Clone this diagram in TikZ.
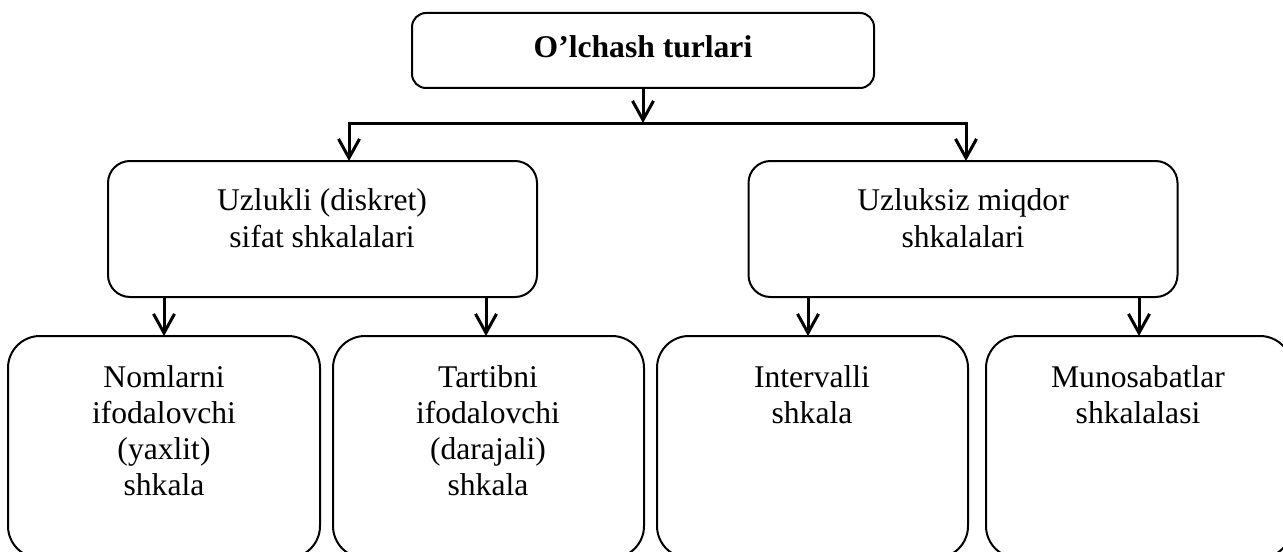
\documentclass[tikz,border=0pt]{standalone}
\usepackage{fontspec}
\setmainfont{Liberation Serif}
\usetikzlibrary{arrows.meta}
\newcommand\myTopStrut{\rule{0pt}{12pt}}
\begin{document}
\begin{tikzpicture}[x=0.5pt,y=-0.5pt,
  every node/.style={inner sep=0pt, outer sep=0pt},
  topbox/.style={draw, line width=1pt, rounded corners=7pt, minimum width=231pt, minimum height=37.5pt},
  midbox/.style={draw, line width=1pt, rounded corners=11pt, minimum width=214.5pt, minimum height=68pt},
  lowbox/.style={draw, line width=1pt, rounded corners=16pt, minimum height=111pt},
  lbl/.style={anchor=north, align=center, font=\fontsize{15.8}{18}\selectfont},
  arr/.style={line width=1.5pt, -{Straight Barb[length=9.5pt, width=10.5pt]}},
  bus/.style={line width=1.5pt, line cap=rect}]
\useasboundingbox (0,0) rectangle (1283,551);
\clip (0,0) rectangle (1283,551);

% boxes
\node[topbox] (top) at (643,50.5) {};
\node[midbox] (midL) at (322.5,229) {};
\node[midbox] (midR) at (963,229) {};
\node[lowbox, minimum width=156pt] (b1) at (164,447) {};
\node[lowbox, minimum width=155.5pt] (b2) at (488.5,447) {};
\node[lowbox, minimum width=155.5pt] (b3) at (812.5,447) {};
\node[lowbox, minimum width=153pt] (b4) at (1139,447) {};

% texts
\node[lbl, font=\fontsize{15.8}{18}\selectfont\bfseries] (toptxt) at (643,34) {\myTopStrut O’lchash turlari};
\node[lbl, font=\fontsize{15.8}{18.5}\selectfont] (midLtxt) at (322,186) {\myTopStrut Uzlukli (diskret)\\sifat shkalalari};
\node[lbl, font=\fontsize{15.8}{18.5}\selectfont] (midRtxt) at (963,186) {\myTopStrut Uzluksiz miqdor\\shkalalari};
\node[lbl] (b1txt) at (164,363) {\myTopStrut Nomlarni\\ifodalovchi\\(yaxlit)\\shkala};
\node[lbl] (b2txt) at (488,363) {\myTopStrut Tartibni\\ifodalovchi\\(darajali)\\shkala};
\node[lbl] (b3txt) at (812,363) {\myTopStrut Intervalli\\shkala};
\node[lbl] (b4txt) at (1138,363) {\myTopStrut Munosabatlar\\shkalalasi};

% connectors
\coordinate (busL) at (349,123);
\coordinate (busR) at (966,123);
\coordinate (busM) at (643,123);
\draw[bus] (busL) -- (busR);
\draw[arr] (top.south) -- (busM);
\draw[arr] (busL) -- (busL |- midL.north);
\draw[arr] (busR) -- (busR |- midR.north);
\draw[arr] (midL.south -| b1.north) -- (b1.north);
\draw[arr] (midL.south -| 486,0) -- (486,0 |- b2.north);
\draw[arr] (midR.south -| 808,0) -- (808,0 |- b3.north);
\draw[arr] (midR.south -| b4.north) -- (b4.north);
\end{tikzpicture}
\end{document}
